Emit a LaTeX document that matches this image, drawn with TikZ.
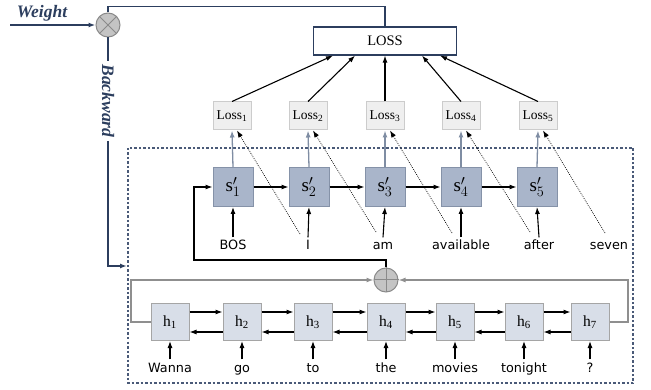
\documentclass[tikz,border=0pt]{standalone}
\usepackage{fontspec}
\setmainfont{Liberation Serif}
\newfontfamily\wordfont{DejaVu Sans}
\usetikzlibrary{arrows.meta,calc}
\definecolor{navy}{HTML}{2C3E5E}
\definecolor{dashc}{HTML}{4A5A78}
\definecolor{sfill}{HTML}{A9B5CA}
\definecolor{sbord}{HTML}{8592A8}
\definecolor{hfill}{HTML}{D8DEE8}
\definecolor{hbord}{HTML}{A5A5A5}
\definecolor{lfill}{HTML}{EFEFEF}
\definecolor{lbord}{HTML}{CCCCCC}
\definecolor{bluegray}{HTML}{7F8DA3}
\definecolor{hgray}{HTML}{8F8F8F}
\definecolor{cfill}{HTML}{C4C4C4}
\definecolor{cbord}{HTML}{8A8A8A}
\begin{document}
\begin{tikzpicture}[x=1pt,y=-1pt,
  sbox/.style={draw=sbord, fill=sfill, line width=1pt, minimum width=40pt, minimum height=39pt, inner sep=0pt, font=\fontsize{19}{19}\selectfont},
  hbox/.style={draw=hbord, fill=hfill, line width=1pt, minimum width=38pt, minimum height=37pt, inner sep=0pt, font=\fontsize{15.5}{15.5}\selectfont},
  lbox/.style={draw=lbord, fill=lfill, line width=1pt, minimum width=38pt, minimum height=28pt, inner sep=0pt, font=\fontsize{13.5}{13.5}\selectfont},
  word/.style={font=\wordfont\fontsize{12.8}{14}\selectfont, inner sep=0pt, text height=12.5pt, text depth=2pt, anchor=base},
  wfont/.style={font=\bfseries\itshape\fontsize{17.5}{17.5}\selectfont, text=navy},
  arr/.style={-{Latex[length=7pt,width=5pt]}, line width=1.1pt, draw=black},
  grayarr/.style={-{Latex[length=7pt,width=5pt]}, line width=1.3pt, draw=bluegray},
  hgrayarr/.style={-{Latex[length=7pt,width=5pt]}, line width=1.3pt, draw=hgray},
  navyline/.style={line width=1.8pt, draw=navy},
  dotarr/.style={-{Latex[length=7pt,width=5pt]}, line width=0.7pt, dash pattern=on 0.8pt off 1.2pt, draw=black},
  opcirc/.style={circle, draw=cbord, fill=cfill, minimum size=24pt, inner sep=0pt, line width=1pt},
  dashbox/.style={draw=dashc, line width=1.2pt, dash pattern=on 2.5pt off 2pt}
]
\useasboundingbox (0,0) rectangle (651,390);

% dashed frame
\draw[dashbox] (128,148) rectangle (633,383);

% Weight / multiply / Backward
\node[wfont] (wt) at (42,13) {Weight};
\node[opcirc] (mul) at (108,25) {};
\draw[cbord, line width=1pt] (mul.north west) -- (mul.south east) (mul.north east) -- (mul.south west);
\coordinate (win) at (10,25);
\draw[navyline, -{Latex[length=7pt,width=5pt]}] (win) -- (mul.west);

\node[draw=navy, line width=1.2pt, fill=white, minimum width=143pt, minimum height=28pt, inner sep=0pt, font=\fontsize{14.5}{14.5}\selectfont] (LOSS) at (385,41) {LOSS};
\draw[navyline] (mul.north) -- ++(0,-6) -| (LOSS.north);

\node[wfont, rotate=-90] (bw) at (108,101) {Backward};
\coordinate (bin) at (127,266);
\draw[navyline] (mul.south) -- (bw.west);
\draw[navyline, -{Latex[length=7pt,width=5pt]}] (bw.east) |- (bin);

% Loss boxes
\node[lbox] (l1) at (232,116) {Loss\textsubscript{1}};
\node[lbox] (l2) at (308,116) {Loss\textsubscript{2}};
\node[lbox] (l3) at (385,116) {Loss\textsubscript{3}};
\node[lbox] (l4) at (461,116) {Loss\textsubscript{4}};
\node[lbox] (l5) at (538,116) {Loss\textsubscript{5}};

\draw[arr] (l1.north) -- ($(LOSS.south)+(-52,0)$);
\draw[arr] (l2.north) -- ($(LOSS.south)+(-30,0)$);
\draw[arr] (l3.north) -- (LOSS.south);
\draw[arr] (l4.north) -- ($(LOSS.south)+(37,0)$);
\draw[arr] (l5.north) -- ($(LOSS.south)+(55,0)$);

% decoder states
\node[sbox] (s1) at (233,187) {s$'_1$};
\node[sbox] (s2) at (309,187) {s$'_2$};
\node[sbox] (s3) at (385,187) {s$'_3$};
\node[sbox] (s4) at (461,187) {s$'_4$};
\node[sbox] (s5) at (537,187) {s$'_5$};

\draw[grayarr] (s1.north) -- (l1.south);
\draw[grayarr] (s2.north) -- (l2.south);
\draw[grayarr] (s3.north) -- (l3.south);
\draw[grayarr] (s4.north) -- (l4.south);
\draw[grayarr] (s5.north) -- (l5.south);

\draw[arr] (s1.east) -- (s2.west);
\draw[arr] (s2.east) -- (s3.west);
\draw[arr] (s3.east) -- (s4.west);
\draw[arr] (s4.east) -- (s5.west);

% decoder words
\node[word] (t1) at (233,250) {BOS};
\node[word] (t2) at (308,250) {I};
\node[word] (t3) at (383,250) {am};
\node[word] (t4) at (461,250) {available};
\node[word] (t5) at (539,250) {after};
\node[word] (t6) at (609,250) {seven};

\draw[arr] (t1.north) -- (s1.south);
\draw[arr] (t2.north) -- (s2.south);
\draw[arr] (t3.north) -- (s3.south);
\draw[arr] (t4.north) -- (s4.south);
\draw[arr] (t5.north) -- (s5.south);

% dotted target links
\coordinate (d1) at (300,234);
\coordinate (d2) at (376,232);
\coordinate (d3) at (452,233);
\coordinate (d4) at (530,232);
\coordinate (d5) at (605,233);
\draw[dotarr] (d1) -- ($(l1.south)+(5,0)$);
\draw[dotarr] (d2) -- ($(l2.south)+(5,0)$);
\draw[dotarr] (d3) -- ($(l3.south)+(5,0)$);
\draw[dotarr] (d4) -- ($(l4.south)+(5,0)$);
\draw[dotarr] (d5) -- ($(l5.south)+(5,0)$);

% plus node
\node[opcirc] (plus) at (386,280) {};
\draw[cbord, line width=1pt] (plus.north) -- (plus.south) (plus.west) -- (plus.east);

\coordinate (fb) at (194,260);
\draw[arr] (plus.north) |- (fb) |- (s1.west);

% encoder states
\node[hbox] (h1) at (170,322) {h\textsubscript{1}};
\node[hbox] (h2) at (242,322) {h\textsubscript{2}};
\node[hbox] (h3) at (313,322) {h\textsubscript{3}};
\node[hbox] (h4) at (386,322) {h\textsubscript{4}};
\node[hbox] (h5) at (455,322) {h\textsubscript{5}};
\node[hbox] (h6) at (524,322) {h\textsubscript{6}};
\node[hbox] (h7) at (590,322) {h\textsubscript{7}};

\foreach \a/\b in {h1/h2,h2/h3,h3/h4,h4/h5,h5/h6,h6/h7}{
  \draw[arr] ($(\a.east)+(0,-10)$) -- ($(\b.west)+(0,-10)$);
  \draw[arr] ($(\b.west)+(0,10)$) -- ($(\a.east)+(0,10)$);
}

\coordinate (gl) at (131,280);
\coordinate (gr) at (628,280);
\draw[hgrayarr] (h1.west) -| (gl) -- (plus.west);
\draw[hgrayarr] (h7.east) -| (gr) -- (plus.east);

% encoder words
\node[word] (e1) at (170,372) {Wanna};
\node[word] (e2) at (242,372) {go};
\node[word] (e3) at (313,372) {to};
\node[word] (e4) at (386,372) {the};
\node[word] (e5) at (455,372) {movies};
\node[word] (e6) at (524,372) {tonight};
\node[word] (e7) at (590,372) {?};

\foreach \i in {1,...,7}{
  \draw[arr] (e\i.north) -- (h\i.south);
}
\end{tikzpicture}
\end{document}
